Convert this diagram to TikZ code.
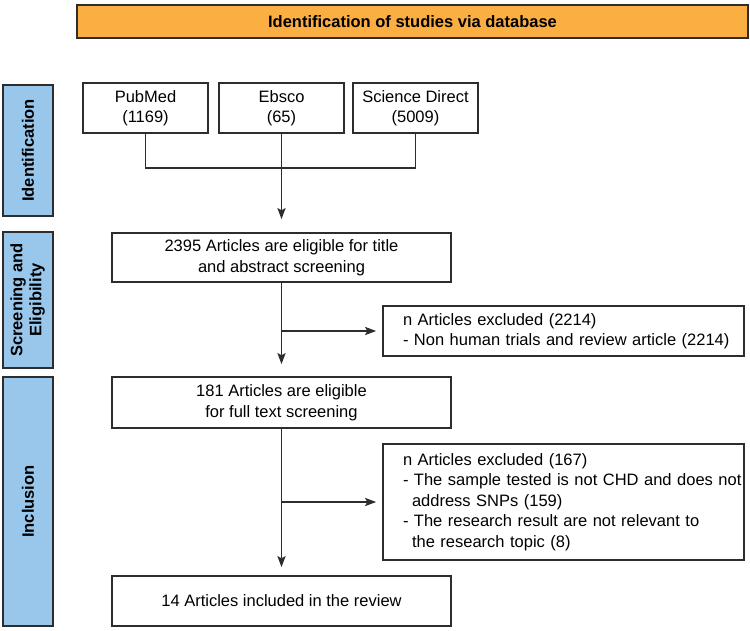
\documentclass[tikz,border=0pt]{standalone}
\usepackage{fontspec}
\setmainfont{Liberation Sans}
\usetikzlibrary{arrows.meta,calc}
\definecolor{bannerorange}{RGB}{251,174,66}
\definecolor{barblue}{RGB}{153,199,236}
\definecolor{edgegray}{RGB}{45,45,45}
\begin{document}
\begin{tikzpicture}[x=1pt,y=-1pt,
  every node/.style={font=\fontsize{16.5}{20.5}\selectfont},
  flowbox/.style={draw=edgegray, line width=1.6pt, fill=white, inner sep=0pt, align=center},
  exbox/.style={flowbox, text width=321pt, inner xsep=20pt, align=left, minimum width=361pt},
  sidebar/.style={draw=edgegray, line width=1.6pt, fill=barblue, inner sep=0pt, minimum width=50pt,
    font=\fontsize{16.5}{19}\selectfont\bfseries},
  link/.style={draw=edgegray, line width=1.8pt},
  arr/.style={link, -{Stealth[length=11pt,width=8pt,inset=2pt]}},
]
\useasboundingbox (0,0) rectangle (750,631);

% banner and side bars
\node[flowbox, fill=bannerorange, minimum width=671pt, minimum height=33pt,
      font=\fontsize{16.5}{20.5}\selectfont\bfseries] (banner) at (412.5,21.5)
      {Identification of studies via database};
\node[sidebar, minimum height=131pt] (idbar) at (28,150.5) {\rotatebox{90}{Identification}};
\node[sidebar, minimum height=136pt] (scbar) at (28,300)
      {\rotatebox{90}{\begin{tabular}{@{}c@{}}Screening and\\Eligibility\end{tabular}}};
\node[sidebar, minimum height=249pt] (inbar) at (28,501.5) {\rotatebox{90}{Inclusion}};

% sources
\node[flowbox, minimum width=125pt, minimum height=50pt] (pubmed) at (145.5,108) {PubMed\\(1169)};
\node[flowbox, minimum width=125pt, minimum height=50pt] (ebsco) at (281.5,108) {Ebsco\\(65)};
\node[flowbox, minimum width=125pt, minimum height=50pt] (sd) at (415.5,108) {Science Direct\\(5009)};

% main flow
\node[flowbox, minimum width=339pt, minimum height=49pt] (box2395) at (281.5,257.5)
      {2395 Articles are eligible for title\\and abstract screening};
\node[flowbox, minimum width=339pt, minimum height=51pt] (box181) at (281.5,402.5)
      {181 Articles are eligible\\for full text screening};
\node[flowbox, minimum width=339pt, minimum height=50pt] (box14) at (281.5,601)
      {14 Articles included in the review};

% exclusions
\node[exbox, minimum height=50pt] (ex1) at (563.5,331)
      {\mbox{n Articles excluded (2214)}\\\mbox{- Non human trials and review article (2214)}};
\node[exbox, minimum height=116pt] (ex2) at (563.5,502)
      {\mbox{n Articles excluded (167)}\\
       \mbox{- The sample tested is not CHD and does not}\\
       \mbox{\hspace*{9pt}address SNPs (159)}\\
       \mbox{- The research result are not relevant to}\\
       \mbox{\hspace*{9pt}the research topic (8)}};

% connectors
\coordinate (jy) at (0,168);
\coordinate (jc) at (ebsco.south |- jy);
\draw[link] (pubmed.south) |- (jc) -| (sd.south);
\draw[arr, shorten >=13pt] (ebsco.south) -- (box2395.north);
\draw[arr, shorten >=12pt] (box2395.south) -- (box181.north);
\coordinate (j1) at (box2395.south |- ex1.west);
\draw[arr, shorten >=6pt] (j1) -- (ex1.west);
\draw[arr, shorten >=8pt] (box181.south) -- (box14.north);
\coordinate (j2) at (box181.south |- ex2.west);
\draw[arr, shorten >=6pt] (j2) -- (ex2.west);
\end{tikzpicture}
\end{document}
